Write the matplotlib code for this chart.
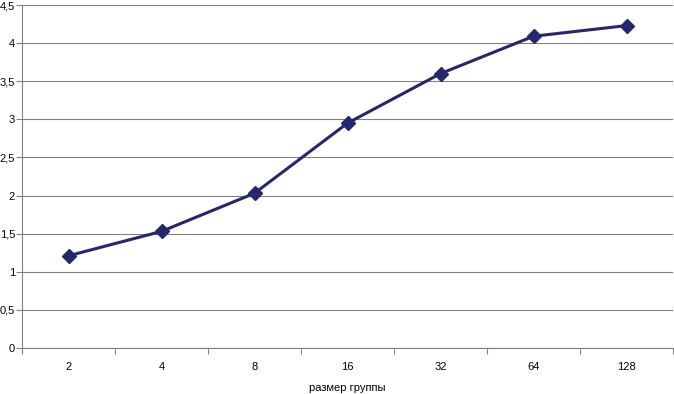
import matplotlib
matplotlib.use("Agg")
import matplotlib.pyplot as plt
import numpy as np

categories = ["2", "4", "8", "16", "32", "64", "128"]
values = [1.21, 1.53, 2.03, 2.95, 3.60, 4.09, 4.23]
yticks = [0, 0.5, 1, 1.5, 2, 2.5, 3, 3.5, 4, 4.5]
ytick_labels = ["0", "0,5", "1", "1,5", "2", "2,5", "3", "3,5", "4", "4,5"]
xlabel = "размер группы"

plt.rcParams['font.family'] = ['Liberation Sans', 'DejaVu Sans']

fig = plt.figure(figsize=(6.74, 3.94), dpi=100)
ax = fig.add_axes([22/674, 1-348/394, 651/674, 343/394])

x = np.arange(len(categories))
ax.plot(x, values, color="#26266e", lw=2.2, marker="D", markersize=7,
        markerfacecolor="#26266e", markeredgecolor="#26266e", zorder=3, clip_on=False)

ax.set_xlim(-0.5, len(categories) - 0.5)
ax.set_ylim(0, 4.5)
ax.set_yticks(yticks)
ax.set_yticklabels(ytick_labels, fontsize=8)
ax.yaxis.grid(True, color="#808080", lw=0.8)
ax.set_axisbelow(True)

ax.set_xticks(x)
ax.set_xticklabels(categories, fontsize=8)
ax.tick_params(axis='x', which='major', length=0, pad=10)
ax.set_xticks(np.arange(len(categories) + 1) - 0.5, minor=True)
ax.tick_params(axis='x', which='minor', length=4, color="#808080", width=0.8, direction='out')
ax.tick_params(axis='y', length=4, color="#808080", width=0.8, pad=1)

for s in ["top", "right"]:
    ax.spines[s].set_visible(False)
for s in ["left", "bottom"]:
    ax.spines[s].set_color("#808080")
    ax.spines[s].set_linewidth(0.8)

ax.set_xlabel(xlabel, fontsize=8, labelpad=8)

fig.savefig("out.png", dpi=100)
